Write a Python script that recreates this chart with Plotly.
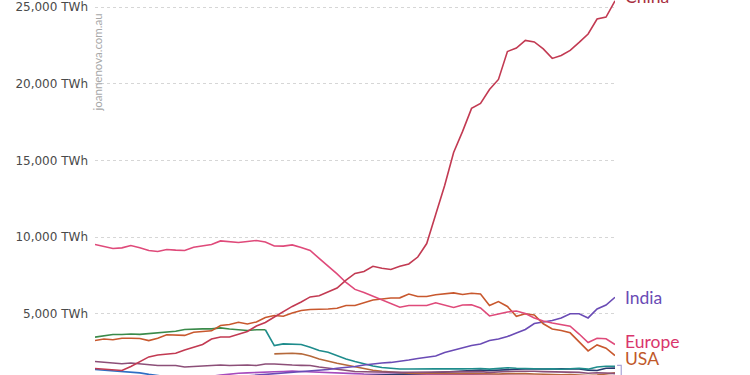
import plotly.graph_objects as go

years = list(range(1965, 2024))

china = [1430, 1400, 1330, 1300, 1560, 1870, 2190, 2310, 2380, 2430,
         2640, 2820, 3000, 3360, 3490, 3490, 3650, 3850, 4200, 4430,
         4790, 5150, 5480, 5770, 6100, 6180, 6420, 6680, 7200, 7630,
         7760, 8100, 7970, 7890, 8100, 8250, 8700, 9580, 11470, 13370,
         15520, 16890, 18390, 18710, 19620, 20280, 22100, 22320, 22820, 22720,
         22270, 21650, 21840, 22170, 22690, 23240, 24220, 24340, 25400]

europe = [9520, 9390, 9260, 9300, 9450, 9300, 9130, 9060, 9190, 9150,
          9130, 9340, 9410, 9520, 9750, 9710, 9650, 9710, 9780, 9680,
          9420, 9410, 9490, 9320, 9130, 8610, 8120, 7600, 7040, 6590,
          6390, 6160, 5930, 5670, 5430, 5540, 5540, 5540, 5720, 5570,
          5410, 5570, 5590, 5380, 4860, 4990, 5120, 5180, 5020, 4730,
          4530, 4400, 4270, 4190, 3680, 3130, 3410, 3370, 3000]

usa = [3260, 3360, 3310, 3410, 3410, 3390, 3250, 3400, 3630, 3590,
       3590, 3800, 3850, 3890, 4240, 4300, 4450, 4340, 4470, 4760,
       4890, 4840, 5050, 5220, 5280, 5280, 5310, 5360, 5540, 5540,
       5740, 5900, 5970, 6030, 6040, 6290, 6130, 6130, 6240, 6290,
       6360, 6260, 6340, 6290, 5540, 5800, 5480, 4840, 5000, 4920,
       4350, 4010, 3910, 3760, 3190, 2580, 2970, 2760, 2280]

india = [480, 490, 500, 530, 550, 540, 550, 590, 600, 640,
         700, 740, 770, 760, 800, 830, 900, 950, 1000, 1050,
         1080, 1100, 1150, 1200, 1250, 1300, 1370, 1450, 1500, 1560,
         1660, 1740, 1790, 1830, 1890, 1990, 2090, 2150, 2250, 2480,
         2640, 2800, 2930, 3030, 3260, 3360, 3520, 3750, 3980, 4370,
         4480, 4560, 4730, 5000, 5000, 4730, 5310, 5570, 6080]

ussr_years = list(range(1965, 1985))
ussr = [3480, 3550, 3650, 3650, 3680, 3660, 3720, 3770, 3830, 3860,
        3980, 4020, 4020, 4020, 4080, 4010, 3940, 3910, 3960, 3960]

russia_years = list(range(1984, 2024))
russia = [3960, 2930, 3040, 3040, 3000, 2820, 2610, 2490, 2250, 2050,
          1890, 1730, 1600, 1500, 1430, 1400, 1400, 1390, 1400, 1410,
          1420, 1400, 1410, 1420, 1430, 1390, 1420, 1480, 1450, 1420,
          1420, 1400, 1410, 1380, 1420, 1450, 1390, 1530, 1580, 1580]

ukraine_years = list(range(1985, 2024))
ukraine = [2390, 2430, 2430, 2390, 2250, 2050, 1890, 1780, 1660, 1530,
           1400, 1320, 1250, 1200, 1150, 1120, 1110, 1100, 1110, 1100,
           1090, 1100, 1110, 1100, 1060, 1080, 1100, 1110, 1100, 1080,
           1050, 1040, 1030, 1040, 1020, 980, 1010, 1080, 1150]

japan = [1890, 1830, 1760, 1740, 1790, 1730, 1680, 1630, 1630, 1630,
         1530, 1560, 1580, 1600, 1660, 1630, 1660, 1660, 1630, 1730,
         1730, 1680, 1660, 1640, 1630, 1530, 1450, 1370, 1300, 1240,
         1220, 1200, 1190, 1180, 1180, 1190, 1200, 1210, 1220, 1210,
         1220, 1230, 1240, 1230, 1180, 1230, 1240, 1250, 1260, 1250,
         1230, 1220, 1230, 1210, 1180, 1120, 1160, 1140, 1100]

germany = [1370, 1330, 1300, 1260, 1220, 1150, 1050, 950, 900, 880,
           860, 850, 840, 840, 850, 850, 840, 830, 820, 820,
           820, 810, 800, 800, 790, 780, 770, 760, 750, 740,
           740, 730, 720, 720, 710, 700, 700, 700, 700, 700,
           690, 690, 690, 680, 650, 660, 660, 650, 650, 640,
           630, 620, 610, 600, 560, 500, 540, 530, 480]

korea = [650, 680, 700, 700, 710, 720, 730, 700, 720, 760,
         800, 830, 850, 930, 1000, 1080, 1120, 1150, 1160, 1200,
         1220, 1240, 1270, 1240, 1210, 1200, 1170, 1140, 1120, 1100,
         1080, 1070, 1060, 1060, 1050, 1050, 1050, 1040, 1040, 1030,
         1030, 1020, 1020, 1010, 1000, 1000, 990, 990, 980, 980,
         970, 970, 960, 960, 950, 940, 950, 940, 930]

indonesia = [500, 500, 510, 520, 520, 530, 540, 550, 560, 570,
             580, 600, 610, 620, 640, 650, 670, 690, 700, 720,
             740, 760, 780, 800, 820, 840, 860, 880, 900, 920,
             940, 960, 990, 1010, 1040, 1070, 1100, 1130, 1160, 1180,
             1210, 1250, 1280, 1340, 1300, 1340, 1370, 1380, 1400, 1390,
             1400, 1400, 1410, 1420, 1400, 1330, 1300, 1450, 1460]

tick_vals = [5000, 10000, 15000, 20000, 25000]
tick_text = ["5,000 TWh", "10,000 TWh", "15,000 TWh", "20,000 TWh", "25,000 TWh"]

fig = go.Figure()

def add(xs, ys, color, width=1.6):
    fig.add_trace(go.Scatter(x=xs, y=ys, mode="lines",
                             line=dict(color=color, width=width),
                             showlegend=False, hoverinfo="skip"))

add(years, germany, "#2f6fc4")
add(years, korea, "#a64bbd")
add(years, indonesia, "#283a6e")
add(ukraine_years, ukraine, "#b5693b")
add(years, japan, "#8c4f78")
add(russia_years, russia, "#1e8c8c")
add(ussr_years, ussr, "#3a8a4a")
add(years, india, "#6a4bb5")
add(years, usa, "#c8582e")
add(years, europe, "#df4a7a")
add(years, china, "#c23a52")

labels = [("China", 25400, 4, "#a8303f"),
          ("India", india[-1], 0, "#6a4bb5"),
          ("Europe", 3170, 0, "#d9366c"),
          ("USA", 2080, 0, "#c0582a")]
for text, yv, ys, col in labels:
    fig.add_annotation(x=years[-1], y=yv, xref="x", yref="y", text=text,
                       showarrow=False, xanchor="left", yanchor="middle",
                       xshift=8, yshift=ys,
                       font=dict(family="Lato", size=17.5, color=col))

fig.add_annotation(x=1965.25, y=21400, xref="x", yref="y",
                   text="joannenova.com.au", textangle=-90, showarrow=False,
                   font=dict(family="Lato", size=11.5, color="#a8a8a8"))

fig.add_shape(type="path", xref="paper", yref="y",
              path="M 1.004 1640 L 1.012 1640 L 1.012 700",
              line=dict(color="#a9a3d6", width=1.2))

fig.update_layout(
    width=750, height=375,
    margin=dict(l=95, r=135, t=0, b=0),
    paper_bgcolor="white", plot_bgcolor="white",
    xaxis=dict(range=[1965, 2023], showgrid=False, zeroline=False,
               showticklabels=False, showline=False, ticks=""),
    yaxis=dict(range=[1010, 25457], tickvals=tick_vals, ticktext=tick_text,
               showgrid=True, gridcolor="#d6d6d6", griddash="dot", gridwidth=1,
               zeroline=False, showline=False, ticks="",
               ticklabelstandoff=6,
               tickfont=dict(family="DejaVu Sans", size=12, color="#4a4a4a")),
)

fig.write_html("out.html", config={"displayModeBar": False},
               post_script="document.body.style.margin='0';document.body.style.padding='0';")
